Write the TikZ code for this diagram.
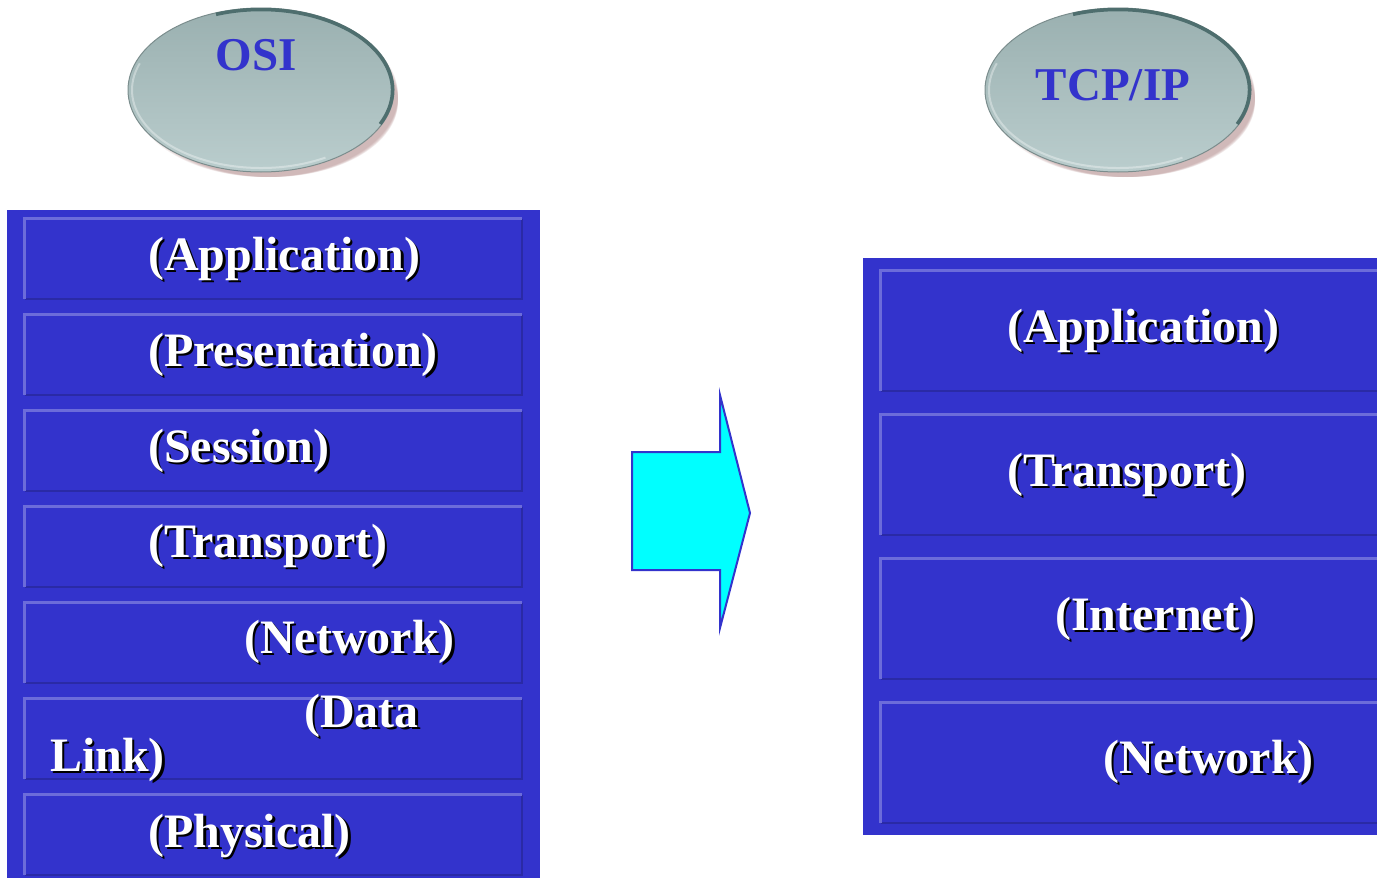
\documentclass[tikz,border=0pt]{standalone}
\usepackage{fontspec}
\setmainfont{Liberation Serif}
\usetikzlibrary{shapes.geometric}

\definecolor{panelblue}{HTML}{3333CC}
\definecolor{bevlight}{HTML}{6C6CDA}
\definecolor{bevdark}{HTML}{2A2AA6}
\definecolor{capdark}{HTML}{9AB0B0}
\definecolor{caplight}{HTML}{BACDCD}
\definecolor{caprim}{HTML}{4E6E6E}
\definecolor{capshadow}{HTML}{B89494}
\definecolor{arrowcyan}{HTML}{00FFFF}

% one bevelled layer row: name, left, top, right, bottom
\newcommand\layerrow[5]{%
  \coordinate (#1-nw) at (#2,#3);
  \coordinate (#1-se) at (#4,#5);
  \draw[bevdarkline] (#1-nw -| #1-se) -- (#1-se) -- (#1-se -| #1-nw);
  \draw[bevlightline] (#1-se -| #1-nw) -- (#1-nw) -- (#1-nw -| #1-se);
}
% open-ended row (no right edge)
\newcommand\openrow[5]{%
  \coordinate (#1-nw) at (#2,#3);
  \coordinate (#1-se) at (#4,#5);
  \draw[bevdarkline] (#1-se) -- (#1-se -| #1-nw);
  \draw[bevlightline] (#1-se -| #1-nw) -- (#1-nw) -- (#1-nw -| #1-se);
}
% white bold label with a black drop shadow
\newcommand\layertext[4]{%
  \node[labelshadow] (#1-sh) at (#2+2.5,#3+2.5) {#4};
  \node[labeltext] (#1) at (#2,#3) {#4};
}
% grey-teal capsule with soft shadow and title
\newcommand\capsule[5]{%
  \foreach \k in {1,...,10}
    \fill[capshadow, opacity=0.10] (#2+3+0.8*\k,#3+4+0.8*\k) ellipse [x radius=134-\k*0.8, y radius=83-\k*0.8];
  \node[capsulebody] (#1) at (#2,#3) {};
  \draw[caprim, line width=3.5pt] (#1.center) ++(25:131.5 and 80.5)
    arc[start angle=25, end angle=-110, x radius=131.5, y radius=80.5];
  \draw[white, opacity=0.35, line width=2pt] (#1.center) ++(60:129 and 78)
    arc[start angle=60, end angle=200, x radius=129, y radius=78];
  \node[titletext] (#1-title) at (#4,#5) {#1};
}

\begin{document}
\begin{tikzpicture}[x=1pt, y=-1pt,
  bevlightline/.style={draw=bevlight, line width=3pt},
  bevdarkline/.style={draw=bevdark, line width=2.5pt},
  labeltext/.style={text=white, font=\bfseries\fontsize{48}{50}\selectfont, anchor=base west, inner sep=0pt},
  labelshadow/.style={labeltext, text=black},
  titletext/.style={text=panelblue, font=\bfseries\fontsize{47}{50}\selectfont, anchor=base, inner sep=0pt},
  capsulebody/.style={ellipse, minimum width=266pt, minimum height=164pt, inner sep=0pt,
    top color=capdark, bottom color=caplight, draw=capdark!80!black, line width=1pt},
  bigarrow/.style={fill=arrowcyan, draw=panelblue, line width=2pt, line join=miter}]
\useasboundingbox (0,0) rectangle (1377,878);

% capsules
\capsule{OSI}{261}{90}{256}{70}
\capsule{TCP/IP}{1118}{90}{1113}{100}

% OSI stack
\fill[panelblue] (7,210) rectangle (540,878);
\layerrow{o1}{24.5}{218.5}{522}{299}
\layerrow{o2}{24.5}{314.5}{522}{395}
\layerrow{o3}{24.5}{410.5}{522}{491}
\layerrow{o4}{24.5}{506.5}{522}{587}
\layerrow{o5}{24.5}{602.5}{522}{683}
\layerrow{o6}{24.5}{698.5}{522}{779}
\layerrow{o7}{24.5}{794.5}{522}{875}
\layertext{oapp}{148}{270}{(Application)}
\layertext{opres}{148}{366}{(Presentation)}
\layertext{osess}{148}{462}{(Session)}
\layertext{otrans}{148}{557}{(Transport)}
\layertext{onet}{244}{653}{(Network)}
\layertext{odata}{304}{727}{(Data}
\layertext{olink}{50}{771}{Link)}
\layertext{ophys}{148}{847}{(Physical)}

% mapping arrow
\draw[bigarrow] (632,452) -- (720,452) -- (720,395) -- (750,513)
  -- (720,628) -- (720,570) -- (632,570) -- cycle;

% TCP/IP stack
\fill[panelblue] (863,258) rectangle (1377,835);
\openrow{t1}{880.5}{270.5}{1377}{391}
\openrow{t2}{880.5}{414.5}{1377}{535}
\openrow{t3}{880.5}{558.5}{1377}{679}
\openrow{t4}{880.5}{702.5}{1377}{823}
\layertext{tapp}{1007}{342}{(Application)}
\layertext{ttrans}{1007}{486}{(Transport)}
\layertext{tint}{1055}{630}{(Internet)}
\layertext{tnet}{1103}{773}{(Network)}
\end{tikzpicture}
\end{document}
